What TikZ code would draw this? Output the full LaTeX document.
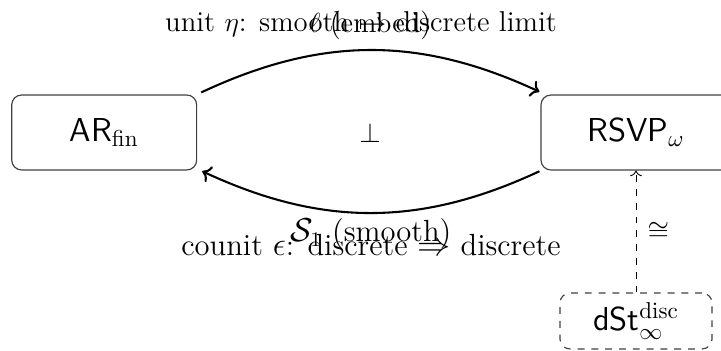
\documentclass[tikz,border=0pt]{standalone}
\usetikzlibrary{arrows.meta}
\begin{document}
\begin{tikzpicture}[x=0.4348pt,y=-0.4348pt,
  box/.style={draw=black!75, rounded corners=4.3pt, line width=0.5pt, font=\Large\sffamily, inner sep=0pt},
  arc/.style={->, line width=0.9pt},
  lbl/.style={font=\fontsize{12.5}{15}\selectfont},
  lblb/.style={font=\fontsize{13.3}{16}\selectfont}]
\useasboundingbox (0,0) rectangle (721,351);
\node[box, minimum width=80.4pt, minimum height=32.6pt] (AR) at (104.2,132.5) {AR$_{\mathrm{fin}}$};
\node[box, minimum width=82.6pt, minimum height=32.6pt] (RSVP) at (636,132.5) {RSVP$_{\omega}$};
\node[box, dashed, minimum width=66.1pt, minimum height=24.3pt] (dst) at (636,321) {dSt$^{\mathrm{disc}}_{\infty}$};
\node[lbl] (perp) at (370,132.5) {$\perp$};
\draw[arc] ([shift={(4,-2)}]AR.north east) to[bend left=25] node[midway, anchor=base, yshift=7.6pt, lbl] (emb) {$\ell$ (embed)} ([shift={(-1,-2.7)}]RSVP.north west);
\draw[arc] ([shift={(-1,0.7)}]RSVP.south west) to[bend left=25] node[midway, anchor=base, yshift=-12.6pt, lblb] (smo) {$\mathcal{S}_1$ (smooth)} ([shift={(5,0.7)}]AR.south east);
\node[anchor=base, lbl] (unit) at (361,32) {unit $\eta$: smooth $\mapsto$ discrete limit};
\node[anchor=base, lblb] (counit) at (371,256) {counit $\epsilon$: discrete $\Rightarrow$ discrete};
\draw[->, dashed, line width=0.4pt] (dst) -- node[midway, right, xshift=1.5pt, lbl] (iso) {$\cong$} (RSVP);
\end{tikzpicture}
\end{document}
